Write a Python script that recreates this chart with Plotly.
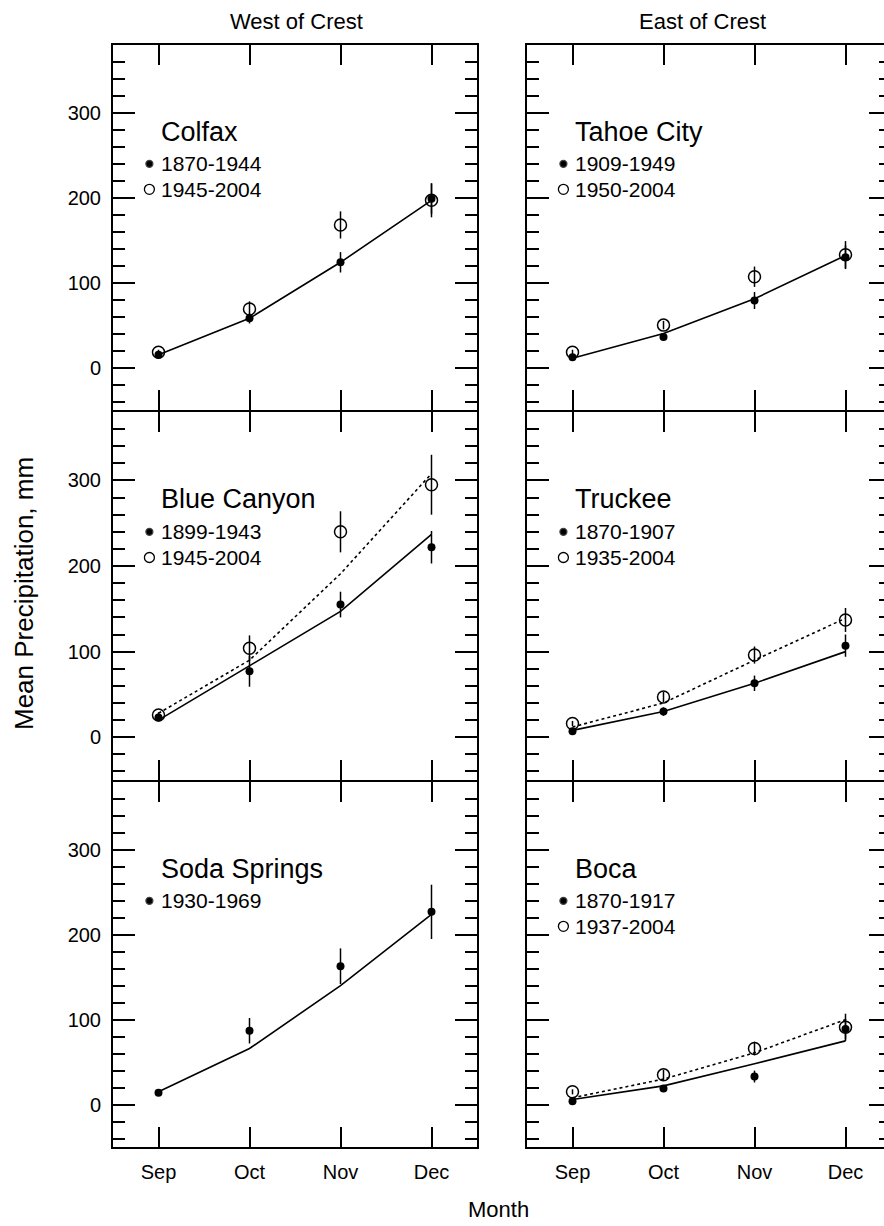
import plotly.graph_objects as go

# ---------------------------------------------------------------- data
MONTHS = ["Sep", "Oct", "Nov", "Dec"]
MONTH_POS = [1, 2, 3, 4]

# Colfax (west of crest)
COLFAX_PERIODS = ["1870-1944", "1945-2004"]
COLFAX_EARLY = [15, 58, 124, 199]
COLFAX_EARLY_ERR = [3, 6, 12, 18]
COLFAX_LATE = [18, 69, 168, 197]
COLFAX_LATE_ERR = [3, 9, 16, 20]
COLFAX_FIT_EARLY = [15, 58, 124, 197]

# Tahoe City (east of crest)
TAHOE_PERIODS = ["1909-1949", "1950-2004"]
TAHOE_EARLY = [12, 36, 79, 130]
TAHOE_EARLY_ERR = [3, 4, 10, 14]
TAHOE_LATE = [18, 50, 107, 133]
TAHOE_LATE_ERR = [3, 5, 12, 16]
TAHOE_FIT_EARLY = [11, 40, 81, 132]

# Blue Canyon (west of crest)
BLUE_PERIODS = ["1899-1943", "1945-2004"]
BLUE_EARLY = [23, 77, 155, 222]
BLUE_EARLY_ERR = [3, 18, 15, 19]
BLUE_LATE = [26, 104, 240, 295]
BLUE_LATE_ERR = [3, 15, 24, 35]
BLUE_FIT_EARLY = [20, 84, 147, 237]
BLUE_FIT_LATE = [28, 90, 191, 308]

# Truckee (east of crest)
TRUCKEE_PERIODS = ["1870-1907", "1935-2004"]
TRUCKEE_EARLY = [7, 30, 63, 107]
TRUCKEE_EARLY_ERR = [2, 5, 9, 13]
TRUCKEE_LATE = [16, 47, 96, 137]
TRUCKEE_LATE_ERR = [3, 6, 10, 14]
TRUCKEE_FIT_EARLY = [8, 30, 63, 100]
TRUCKEE_FIT_LATE = [12, 40, 90, 139]

# Soda Springs (west of crest)
SODA_PERIODS = ["1930-1969"]
SODA_EARLY = [14, 87, 163, 227]
SODA_EARLY_ERR = [3, 15, 21, 32]
SODA_FIT_EARLY = [15, 66, 140, 224]

# Boca (east of crest)
BOCA_PERIODS = ["1870-1917", "1937-2004"]
BOCA_EARLY = [4, 19, 33, 89]
BOCA_EARLY_ERR = [2, 3, 7, 12]
BOCA_LATE = [15, 35, 66, 91]
BOCA_LATE_ERR = [3, 6, 8, 16]
BOCA_FIT_EARLY = [6, 22, 48, 75]
BOCA_FIT_LATE = [8, 30, 61, 100]

# ---------------------------------------------------------------- layout
W, H = 884, 1226
FONT = "Liberation Sans, Arial, Helvetica, sans-serif"
Y_RANGE = [-50, 380]
COL_PX = [(113, 477), (527, 891)]      # right column's frame runs off the page
ROW_PX = [(45, 410), (412, 780), (782, 1147)]  # 2px gaps so shared frame lines coincide
NAME_Y, ROW_Y = 278, [240, 210]
KEY_X = 0.9

TICK_SIZE = 20
KEY_SIZE = 21
NAME_SIZE = 27
HEAD_SIZE = 22

panels = [
    dict(name="Colfax", periods=COLFAX_PERIODS, early=COLFAX_EARLY, early_err=COLFAX_EARLY_ERR,
         late=COLFAX_LATE, late_err=COLFAX_LATE_ERR, fit_early=COLFAX_FIT_EARLY, fit_late=None),
    dict(name="Tahoe City", periods=TAHOE_PERIODS, early=TAHOE_EARLY, early_err=TAHOE_EARLY_ERR,
         late=TAHOE_LATE, late_err=TAHOE_LATE_ERR, fit_early=TAHOE_FIT_EARLY, fit_late=None),
    dict(name="Blue Canyon", periods=BLUE_PERIODS, early=BLUE_EARLY, early_err=BLUE_EARLY_ERR,
         late=BLUE_LATE, late_err=BLUE_LATE_ERR, fit_early=BLUE_FIT_EARLY, fit_late=BLUE_FIT_LATE),
    dict(name="Truckee", periods=TRUCKEE_PERIODS, early=TRUCKEE_EARLY, early_err=TRUCKEE_EARLY_ERR,
         late=TRUCKEE_LATE, late_err=TRUCKEE_LATE_ERR, fit_early=TRUCKEE_FIT_EARLY, fit_late=TRUCKEE_FIT_LATE),
    dict(name="Soda Springs", periods=SODA_PERIODS, early=SODA_EARLY, early_err=SODA_EARLY_ERR,
         late=None, late_err=None, fit_early=SODA_FIT_EARLY, fit_late=None),
    dict(name="Boca", periods=BOCA_PERIODS, early=BOCA_EARLY, early_err=BOCA_EARLY_ERR,
         late=BOCA_LATE, late_err=BOCA_LATE_ERR, fit_early=BOCA_FIT_EARLY, fit_late=BOCA_FIT_LATE),
]

fig = go.Figure()
layout = {}
annotations = []

BLACK = "black"
for i, p in enumerate(panels):
    k = i + 1
    row, col = divmod(i, 2)
    xs = "" if k == 1 else str(k)
    xref, yref = "x" + xs, "y" + xs

    x0, x1 = COL_PX[col]
    y0, y1 = ROW_PX[row]
    dom_x1 = min(x1, W)
    x_hi = 0.5 + 4.0 * (dom_x1 - x0) / (x1 - x0)
    xdom = [x0 / W, dom_x1 / W]
    ydom = [1 - y1 / H, 1 - y0 / H]

    layout["xaxis" + xs] = dict(
        domain=xdom, range=[0.5, x_hi], anchor=yref,
        tickmode="array", tickvals=MONTH_POS, ticktext=MONTHS,
        ticks="inside", ticklen=20, tickwidth=1.5, tickcolor=BLACK,
        showline=True, linewidth=2, linecolor=BLACK, mirror="ticks",
        showticklabels=(row == 2), ticklabelstandoff=6,
        tickfont=dict(family=FONT, size=TICK_SIZE, color=BLACK),
        showgrid=False, zeroline=False, fixedrange=True,
    )
    layout["yaxis" + xs] = dict(
        domain=ydom, range=Y_RANGE, anchor=xref,
        tick0=0, dtick=100, ticks="inside", ticklen=22, tickwidth=1.5, tickcolor=BLACK,
        minor=dict(ticks="inside", ticklen=12, tickwidth=1.5, tickcolor=BLACK, dtick=20, tick0=0),
        showline=True, linewidth=2, linecolor=BLACK,
        mirror="ticks" if col == 0 else False,
        showticklabels=(col == 0), ticklabelstandoff=6,
        tickfont=dict(family=FONT, size=TICK_SIZE, color=BLACK),
        showgrid=False, zeroline=False, fixedrange=True,
    )

    if col == 1:
        # right-hand tick marks of the east panels, whose frame edge lies past the page
        cut = x1 - dom_x1
        oid = str(6 + row + 1)
        layout["yaxis" + oid] = dict(
            overlaying=yref, side="right", anchor="free", position=1.0,
            range=Y_RANGE, tick0=0, dtick=100,
            ticks="inside", ticklen=22 - cut, tickwidth=1.5, tickcolor=BLACK,
            minor=dict(ticks="inside", ticklen=max(12 - cut, 1), tickwidth=1.5,
                       tickcolor=BLACK, dtick=20, tick0=0),
            showline=False, showticklabels=False, showgrid=False, zeroline=False,
            fixedrange=True,
        )
        fig.add_trace(go.Scatter(x=[None], y=[None], xaxis=xref, yaxis="y" + oid,
                                 mode="markers", showlegend=False, hoverinfo="skip"))

    # fitted curves
    fig.add_trace(go.Scatter(x=MONTH_POS, y=p["fit_early"], xaxis=xref, yaxis=yref,
                             mode="lines", line=dict(color=BLACK, width=1.6),
                             showlegend=False, hoverinfo="skip"))
    if p["fit_late"] is not None:
        fig.add_trace(go.Scatter(x=MONTH_POS, y=p["fit_late"], xaxis=xref, yaxis=yref,
                                 mode="lines", line=dict(color=BLACK, width=1.6, dash="dot"),
                                 showlegend=False, hoverinfo="skip"))

    # station means with error bars
    fig.add_trace(go.Scatter(
        x=MONTH_POS, y=p["early"], xaxis=xref, yaxis=yref, mode="markers",
        marker=dict(symbol="circle", size=8, color=BLACK),
        error_y=dict(type="data", array=p["early_err"], visible=True,
                     thickness=1.5, width=0, color=BLACK),
        showlegend=False, name=p["periods"][0]))
    if p["late"] is not None:
        fig.add_trace(go.Scatter(
            x=MONTH_POS, y=p["late"], xaxis=xref, yaxis=yref, mode="markers",
            marker=dict(symbol="circle-open", size=12, color=BLACK, line=dict(width=1.5)),
            error_y=dict(type="data", array=p["late_err"], visible=True,
                         thickness=1.5, width=0, color=BLACK),
            showlegend=False, name=p["periods"][1]))

    # in-panel key
    annotations.append(dict(x=1.0, y=NAME_Y, xref=xref, yref=yref, text=p["name"],
                            showarrow=False, xanchor="left", yanchor="middle",
                            font=dict(family=FONT, size=NAME_SIZE, color=BLACK)))
    symbols = [("circle", 7), ("circle-open", 10)]
    for j, period in enumerate(p["periods"]):
        sym, sz = symbols[j]
        fig.add_trace(go.Scatter(x=[KEY_X], y=[ROW_Y[j]], xaxis=xref, yaxis=yref,
                                 mode="markers",
                                 marker=dict(symbol=sym, size=sz, color=BLACK, line=dict(width=1.3)),
                                 showlegend=False, hoverinfo="skip"))
        annotations.append(dict(x=1.0, y=ROW_Y[j], xref=xref, yref=yref, text=period,
                                showarrow=False, xanchor="left", yanchor="middle",
                                font=dict(family=FONT, size=KEY_SIZE, color=BLACK)))

# column headings and axis titles
annotations += [
    dict(x=296 / W, y=1 - 21 / H, xref="paper", yref="paper", text="West of Crest",
         showarrow=False, xanchor="center", yanchor="middle",
         font=dict(family=FONT, size=HEAD_SIZE, color=BLACK)),
    dict(x=702 / W, y=1 - 21 / H, xref="paper", yref="paper", text="East of Crest",
         showarrow=False, xanchor="center", yanchor="middle",
         font=dict(family=FONT, size=HEAD_SIZE, color=BLACK)),
    dict(x=498 / W, y=1 - 1209 / H, xref="paper", yref="paper", text="Month",
         showarrow=False, xanchor="center", yanchor="middle",
         font=dict(family=FONT, size=HEAD_SIZE, color=BLACK)),
    dict(x=24 / W, y=1 - 594 / H, xref="paper", yref="paper", text="Mean Precipitation, mm",
         showarrow=False, xanchor="center", yanchor="middle", textangle=-90,
         font=dict(family=FONT, size=26, color=BLACK)),
]

fig.update_layout(
    width=W, height=H,
    margin=dict(l=0, r=0, t=0, b=0),
    paper_bgcolor="white", plot_bgcolor="white",
    showlegend=False,
    annotations=annotations,
    **layout,
)

fig.write_html("out.html", config=dict(displayModeBar=False))
